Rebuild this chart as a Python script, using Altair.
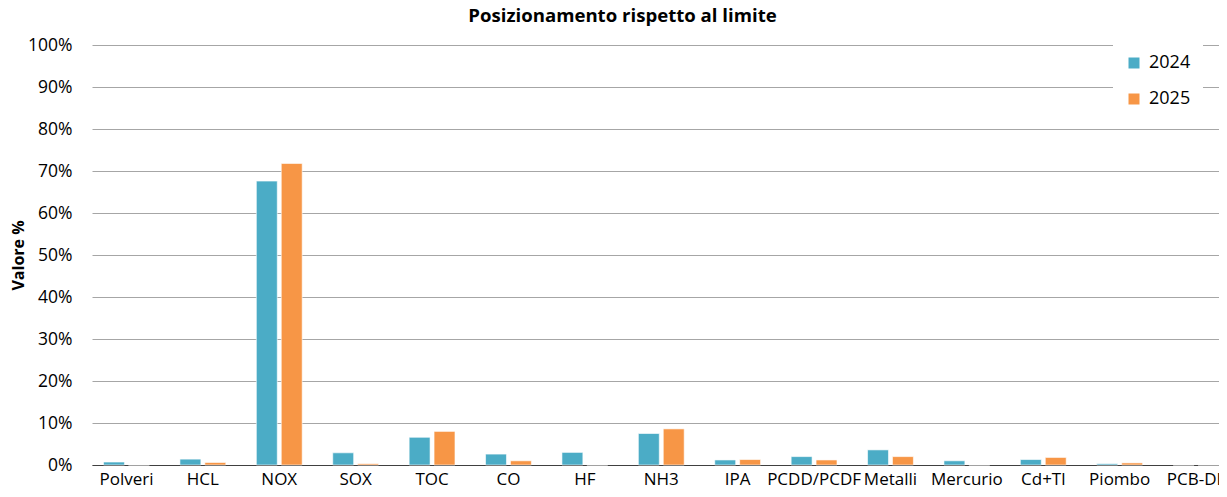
import altair as alt
import pandas as pd

categories = ["Polveri", "HCL", "NOX", "SOX", "TOC", "CO", "HF", "NH3", "IPA",
              "PCDD/PCDF", "Metalli", "Mercurio", "Cd+Tl", "Piombo", "PCB-DL"]
v2024 = [0.7, 1.4, 67.6, 2.9, 6.6, 2.6, 3.0, 7.5, 1.2, 2.0, 3.6, 1.0, 1.3, 0.3, 0.0]
v2025 = [0.0, 0.6, 71.8, 0.3, 8.0, 1.0, 0.0, 8.6, 1.3, 1.2, 2.0, 0.0, 1.8, 0.5, 0.0]
years = ["2024", "2025"]
colors = ["#4BACC6", "#F79646"]
y_ticks = [0, 0.1, 0.2, 0.3, 0.4, 0.5, 0.6, 0.7, 0.8, 0.9, 1.0]

rows = []
for c, a, b in zip(categories, v2024, v2025):
    rows.append({"cat": c, "anno": years[0], "val": a / 100})
    rows.append({"cat": c, "anno": years[1], "val": b / 100})
df = pd.DataFrame(rows)

chart = alt.Chart(df).mark_bar(stroke="white", strokeWidth=0.6).encode(
    x=alt.X("cat:N", sort=categories, title=None,
            scale=alt.Scale(paddingInner=0.4, paddingOuter=0.0755, align=1),
            axis=alt.Axis(labelAngle=0, labelFontSize=17, labelPadding=6, ticks=False,
                          domainColor="#404040", domainWidth=1.2, grid=False,
                          labelColor="black", labelOverlap=False)),
    xOffset=alt.XOffset("anno:N", sort=years, scale=alt.Scale(paddingInner=0.16)),
    y=alt.Y("val:Q", scale=alt.Scale(domain=[0, 1]),
            axis=alt.Axis(values=y_ticks, format=".0%", title="Valore %", grid=True,
                          gridColor="#a6a6a6", gridWidth=1, domain=False, ticks=False,
                          labelPadding=20, labelFontSize=17.5, labelColor="black",
                          titleFontSize=16, titleFontWeight="bold", titleColor="black",
                          titleX=-74, titleY=210, titleAngle=270,
                          titleAlign="center", titleBaseline="middle")),
    color=alt.Color("anno:N", scale=alt.Scale(domain=years, range=colors),
                    legend=alt.Legend(title=None, orient="none", legendX=1021, legendY=-3,
                                      fillColor="white", padding=12, symbolType="square",
                                      symbolSize=121, labelFontSize=18, rowPadding=18,
                                      labelOffset=6, symbolStrokeWidth=0,
                                      labelColor="black")),
).properties(
    width=1127, height=420,
    title=alt.Title("Posizionamento rispetto al limite", fontSize=18.6, fontWeight="bold",
                    dx=-33, offset=10, color="black"),
    autosize="none",
    padding={"left": 84, "top": 37, "right": 0, "bottom": 24},
).configure(font="Open Sans").configure_view(stroke=None)

chart.save("out.html", embed_options={"renderer": "svg", "actions": False})
